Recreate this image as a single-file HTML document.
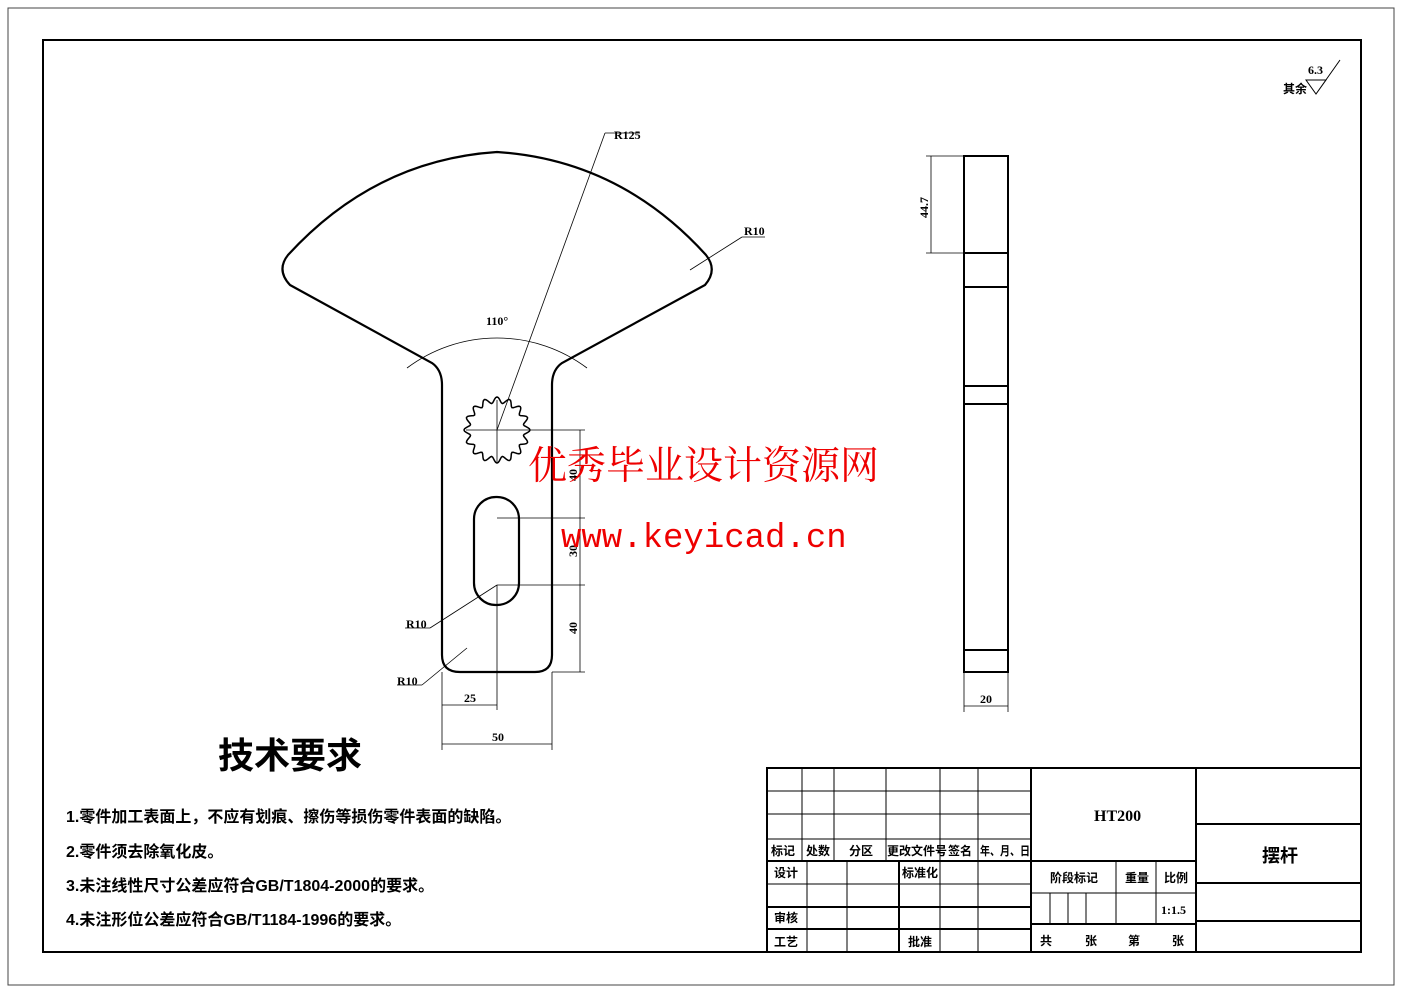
<!DOCTYPE html>
<html><head><meta charset="utf-8"><style>
html,body{margin:0;padding:0;background:#fff;width:1403px;height:992px;overflow:hidden}
svg{display:block}
text{font-family:"Liberation Serif","Noto Serif CJK SC","Noto Sans CJK SC",serif;fill:#000}
.c{font-family:"Liberation Sans","Noto Sans CJK SC",sans-serif;font-weight:bold}
</style></head><body>
<svg width="1403" height="992" viewBox="0 0 1403 992" xmlns="http://www.w3.org/2000/svg">
<rect x="8" y="8" width="1386" height="977" fill="none" stroke="#444" stroke-width="1"/>
<rect x="43" y="40" width="1318" height="912" fill="none" stroke="#000" stroke-width="2"/>

<text x="1283" y="93" class="c" font-size="12">其余</text>
<text x="1308" y="74" font-size="12" font-weight="bold">6.3</text>
<path d="M1306 80 L1326 80 L1316 94 Z M1316 94 L1340 60" fill="none" stroke="#000" stroke-width="1"/>

<g fill="none" stroke="#000" stroke-width="2.2">
<path d="M290 285 L432 363 Q442 370 442 385 L442 655 Q442 672 460 672 L535 672 Q552 672 552 655 L552 385 Q552 370 562 363 L705 285 Q718 270 706 255 Q620 160 497 152 Q375 160 288 255 Q276 270 290 285 Z"/>
<rect x="474" y="497" width="45" height="108" rx="22" ry="22"/>
<path id="gear" stroke-width="1.5" d=""/>
</g>
<g fill="none" stroke="#000" stroke-width="0.8">
<line x1="497" y1="430" x2="605" y2="133"/><line x1="605" y1="133" x2="640" y2="133"/>
<line x1="466" y1="430" x2="585" y2="430"/><line x1="497" y1="400" x2="497" y2="462"/>
<path d="M407 368 A150 150 0 0 1 587 368"/>
<line x1="690" y1="270" x2="742" y2="237"/><line x1="742" y1="237" x2="765" y2="237"/>
<line x1="497" y1="518" x2="585" y2="518"/><line x1="497" y1="585" x2="585" y2="585"/>
<line x1="552" y1="672" x2="585" y2="672"/>
<line x1="580" y1="430" x2="580" y2="672"/>
<line x1="497" y1="585" x2="497" y2="710"/>
<line x1="442" y1="672" x2="442" y2="750"/><line x1="552" y1="672" x2="552" y2="750"/>
<line x1="442" y1="705" x2="497" y2="705"/><line x1="442" y1="744" x2="552" y2="744"/>
<line x1="497" y1="585" x2="430" y2="628"/><line x1="430" y1="628" x2="405" y2="628"/>
<line x1="467" y1="648" x2="422" y2="685"/><line x1="422" y1="685" x2="397" y2="685"/>
</g>
<g font-size="12" font-weight="bold">
<text x="614" y="139">R125</text>
<text x="744" y="235">R10</text>
<text x="486" y="325">110°</text>
<text x="406" y="628">R10</text>
<text x="397" y="685">R10</text>
<text x="464" y="702">25</text>
<text x="492" y="741">50</text>
<text x="577" y="481" transform="rotate(-90 577 481)">40</text>
<text x="577" y="557" transform="rotate(-90 577 557)">30</text>
<text x="577" y="634" transform="rotate(-90 577 634)">40</text>
</g>

<g fill="none" stroke="#000" stroke-width="2">
<rect x="964" y="156" width="44" height="516"/>
<line x1="964" y1="253" x2="1008" y2="253"/><line x1="964" y1="287" x2="1008" y2="287"/>
<line x1="964" y1="386" x2="1008" y2="386"/><line x1="964" y1="404" x2="1008" y2="404"/>
<line x1="964" y1="650" x2="1008" y2="650"/>
</g>
<g fill="none" stroke="#000" stroke-width="0.8">
<line x1="926" y1="156" x2="964" y2="156"/><line x1="926" y1="253" x2="964" y2="253"/>
<line x1="931" y1="156" x2="931" y2="253"/>
<line x1="964" y1="672" x2="964" y2="712"/><line x1="1008" y1="672" x2="1008" y2="712"/>
<line x1="964" y1="706" x2="1008" y2="706"/>
</g>
<text x="928" y="218" font-size="12" font-weight="bold" transform="rotate(-90 928 218)">44.7</text>
<text x="980" y="703" font-size="12" font-weight="bold">20</text>

<text x="528" y="479" font-size="39" style="fill:#e00;font-family:'Noto Serif CJK SC','Noto Sans CJK SC',serif">优秀毕业设计资源网</text>
<text x="561" y="547" font-size="34" style="fill:#e00;font-family:'Liberation Mono',monospace">www.keyicad.cn</text>

<text x="218" y="768" class="c" font-size="36" font-weight="normal">技术要求</text>
<g class="c" font-size="16">
<text x="66" y="822" class="c">1.零件加工表面上，不应有划痕、擦伤等损伤零件表面的缺陷。</text>
<text x="66" y="857" class="c">2.零件须去除氧化皮。</text>
<text x="66" y="891" class="c">3.未注线性尺寸公差应符合GB/T1804-2000的要求。</text>
<text x="66" y="925" class="c">4.未注形位公差应符合GB/T1184-1996的要求。</text>
</g>

<g fill="none" stroke="#000" stroke-width="1">
<rect x="767" y="768" width="594" height="184" stroke-width="2"/>
<line x1="767" y1="791" x2="1031" y2="791"/><line x1="767" y1="814" x2="1031" y2="814"/>
<line x1="767" y1="839" x2="1031" y2="839"/>
<line x1="767" y1="861" x2="1031" y2="861" stroke-width="2"/>
<line x1="767" y1="884" x2="1031" y2="884"/><line x1="767" y1="907" x2="1031" y2="907" stroke-width="2"/>
<line x1="767" y1="929" x2="1031" y2="929" stroke-width="2"/>
<line x1="802" y1="768" x2="802" y2="861"/><line x1="834" y1="768" x2="834" y2="861"/>
<line x1="886" y1="768" x2="886" y2="861"/><line x1="940" y1="768" x2="940" y2="861"/>
<line x1="978" y1="768" x2="978" y2="952"/>
<line x1="807" y1="861" x2="807" y2="952"/><line x1="847" y1="861" x2="847" y2="952"/>
<line x1="899" y1="861" x2="899" y2="952" stroke-width="2"/><line x1="940" y1="861" x2="940" y2="952"/>
<line x1="1031" y1="768" x2="1031" y2="952" stroke-width="2"/>
<line x1="1031" y1="861" x2="1196" y2="861" stroke-width="2"/>
<line x1="1031" y1="893" x2="1196" y2="893"/>
<line x1="1031" y1="924" x2="1196" y2="924" stroke-width="2"/>
<line x1="1116" y1="861" x2="1116" y2="924"/><line x1="1156" y1="861" x2="1156" y2="924"/>
<line x1="1050" y1="893" x2="1050" y2="924"/><line x1="1068" y1="893" x2="1068" y2="924"/><line x1="1086" y1="893" x2="1086" y2="924"/>
<line x1="1196" y1="768" x2="1196" y2="952" stroke-width="2"/>
<line x1="1196" y1="824" x2="1361" y2="824" stroke-width="2"/>
<line x1="1196" y1="883" x2="1361" y2="883" stroke-width="2"/>
<line x1="1196" y1="921" x2="1361" y2="921" stroke-width="2"/>
</g>
<g class="c" font-size="12">
<text x="771" y="855" class="c">标记</text><text x="806" y="855" class="c">处数</text><text x="849" y="855" class="c">分区</text>
<text x="887" y="855" class="c">更改文件号</text><text x="948" y="855" class="c">签名</text><text x="980" y="855" class="c" textLength="50" lengthAdjust="spacingAndGlyphs">年、月、日</text>
<text x="774" y="877" class="c">设计</text><text x="902" y="877" class="c">标准化</text>
<text x="774" y="922" class="c">审核</text><text x="774" y="946" class="c">工艺</text><text x="908" y="946" class="c">批准</text>
<text x="1050" y="882" class="c">阶段标记</text><text x="1125" y="882" class="c">重量</text><text x="1164" y="882" class="c">比例</text>
<text x="1040" y="945" class="c">共</text><text x="1085" y="945" class="c">张</text><text x="1128" y="945" class="c">第</text><text x="1172" y="945" class="c">张</text>
</g>
<text x="1161" y="914" font-size="12" font-weight="bold">1:1.5</text>
<text x="1094" y="821" font-size="16" font-weight="bold">HT200</text>
<text x="1262" y="862" class="c" font-size="18">摆杆</text>
</svg>
<script>
(function(){var cx=497,cy=430,n=16,d="";for(var i=0;i<=n*10;i++){var a=i/(n*10)*Math.PI*2;var r=30+3*Math.cos(a*n);var x=cx+r*Math.cos(a),y=cy+r*Math.sin(a);d+=(i?"L":"M")+x.toFixed(1)+" "+y.toFixed(1);}document.getElementById("gear").setAttribute("d",d+"Z");})();
</script>
</body></html>
